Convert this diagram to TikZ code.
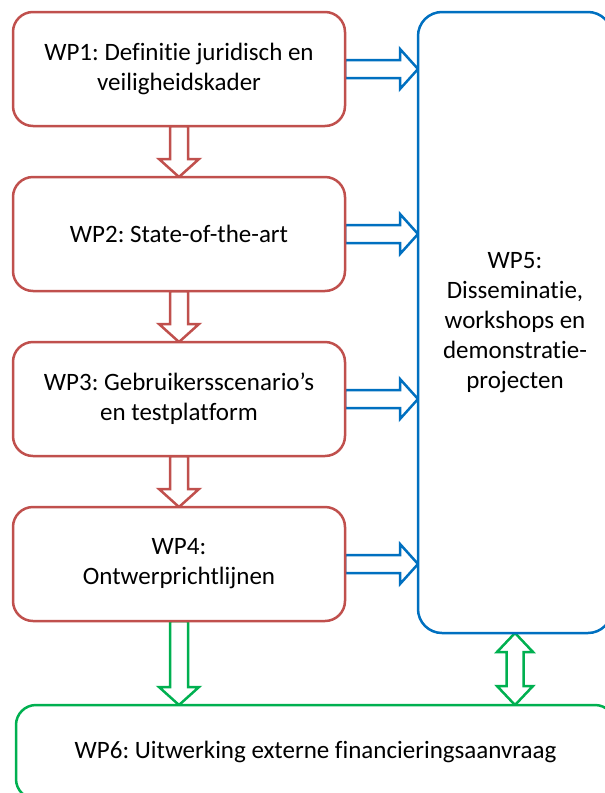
\documentclass[tikz,border=0pt]{standalone}
\usepackage{fontspec}
\setmainfont[Ligatures=NoCommon]{Carlito}
\usepackage{xcolor}
\usepackage{tikz}
\usetikzlibrary{positioning,calc,backgrounds}
\definecolor{wpred}{HTML}{C0504D}
\definecolor{wpblue}{HTML}{0070C0}
\definecolor{wpgreen}{HTML}{00B050}
\frenchspacing
\begin{document}
\begin{tikzpicture}[x=1pt, y=-1pt, node distance=51pt and 73pt, every node/.style={font=\fontsize{25}{30}\selectfont},
  wpbox/.style={draw=wpred,line width=2.5pt,rounded corners=20pt,fill=white,minimum width=332pt,minimum height=114pt,align=center,inner sep=0pt,outer sep=0pt},
  disbox/.style={draw=wpblue,line width=2.5pt,rounded corners=24pt,fill=white,minimum width=194pt,minimum height=621pt,align=center,inner sep=0pt,outer sep=0pt},
  finbox/.style={draw=wpgreen,line width=2.5pt,rounded corners=20pt,fill=white,minimum width=599pt,minimum height=94pt,align=center,inner sep=0pt,outer sep=0pt},
  blockarr/.style={line width=2.5pt,fill=white,to path={let \p1=(\tikztostart), \p2=(\tikztotarget), \n1={atan2(\y2-\y1,\x2-\x1)}, \p3=($(\p2)+(\n1+180:18pt)$) in
    ($(\p1)+(\n1+90:9pt)$) -- ($(\p3)+(\n1+90:9pt)$) -- ($(\p3)+(\n1+90:20pt)$) -- (\p2) -- ($(\p3)+(\n1-90:20pt)$) -- ($(\p3)+(\n1-90:9pt)$) -- ($(\p1)+(\n1-90:9pt)$) -- cycle}},
  dblarr/.style={line width=2.5pt,fill=white,to path={let \p1=(\tikztostart), \p2=(\tikztotarget), \n1={atan2(\y2-\y1,\x2-\x1)}, \p3=($(\p2)+(\n1+180:19pt)$), \p4=($(\p1)+(\n1:19pt)$) in
    (\p1) -- ($(\p4)+(\n1-90:18pt)$) -- ($(\p4)+(\n1-90:8.5pt)$) -- ($(\p3)+(\n1-90:8.5pt)$) -- ($(\p3)+(\n1-90:18pt)$) -- (\p2) -- ($(\p3)+(\n1+90:18pt)$) -- ($(\p3)+(\n1+90:8.5pt)$) -- ($(\p4)+(\n1+90:8.5pt)$) -- ($(\p4)+(\n1+90:18pt)$) -- cycle}}]
\useasboundingbox (0,0) rectangle (605,793);
\clip (0,0) rectangle (605,793);
% work packages
\node[wpbox,anchor=north west] (wp1) at (13,12) {WP1: Definitie juridisch en\\veiligheidskader};
\node[wpbox,below=of wp1] (wp2) {WP2: State-of-the-art};
\node[wpbox,below=of wp2] (wp3) {WP3: Gebruikersscenario’s\\en testplatform};
\node[wpbox,below=of wp3] (wp4) {WP4:\\Ontwerprichtlijnen};
\node[disbox,right=73pt of wp1.north east,anchor=north west] (wp5) {WP5:\\Disseminatie,\\workshops en\\demonstratie-\\projecten};
\node[finbox,below=84pt of wp4.south west,anchor=north west,xshift=3pt] (wp6) {WP6: Uitwerking externe financieringsaanvraag};
% block arrows
\begin{pgfonlayer}{background}
\draw[blockarr,draw=wpred] (wp1.south) to (wp2.north); \draw[blockarr,draw=wpred] (wp2.south) to (wp3.north); \draw[blockarr,draw=wpred] (wp3.south) to (wp4.north);
\draw[blockarr,draw=wpblue] (wp1.east) to (wp1.east -| wp5.west); \draw[blockarr,draw=wpblue] (wp2.east) to (wp2.east -| wp5.west);
\draw[blockarr,draw=wpblue] (wp3.east) to (wp3.east -| wp5.west); \draw[blockarr,draw=wpblue] (wp4.east) to (wp4.east -| wp5.west);
\draw[blockarr,draw=wpgreen] (wp4.south) to (wp4.south |- wp6.north);
\draw[dblarr,draw=wpgreen] (wp5.south) to (wp5.south |- wp6.north);
\end{pgfonlayer}
\end{tikzpicture}
\end{document}
